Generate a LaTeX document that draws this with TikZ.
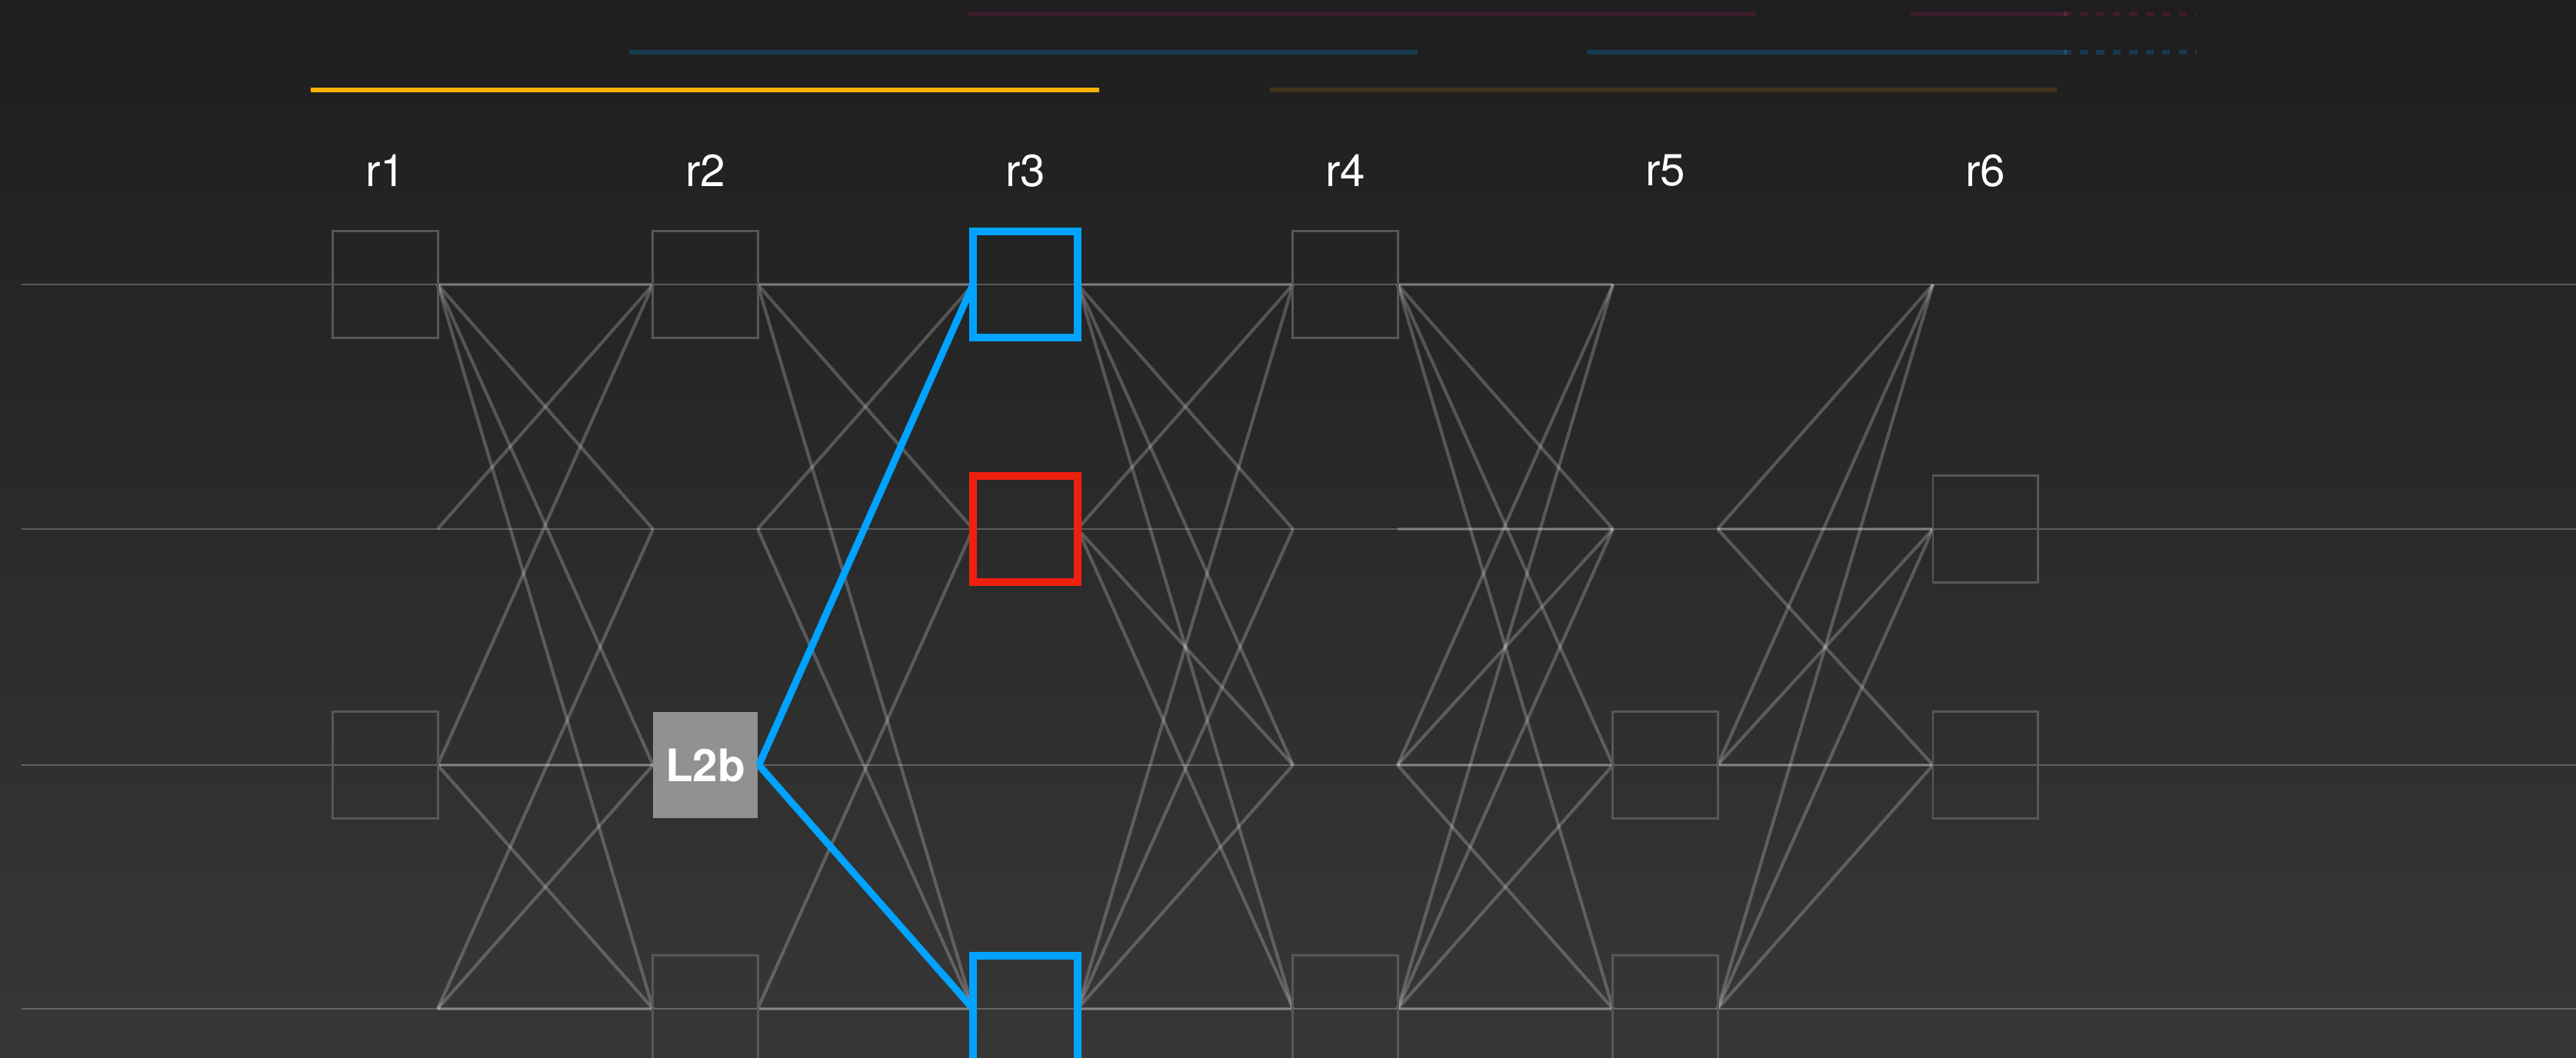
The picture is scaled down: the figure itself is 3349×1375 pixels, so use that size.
\documentclass[tikz,border=0pt]{standalone}
\usepackage{fontspec}
\setmainfont{TeX Gyre Heros}
\usetikzlibrary{calc}

\definecolor{bgtop}{HTML}{1E1E1E}
\definecolor{bgbot}{HTML}{373737}
\definecolor{cellgray}{HTML}{575757}
\definecolor{hotblue}{HTML}{00A3FF}
\definecolor{hotred}{HTML}{EF200E}
\definecolor{lbfill}{HTML}{919191}
\definecolor{barred}{HTML}{3D1C2D}
\definecolor{barredtick}{HTML}{5C2442}
\definecolor{barblue}{HTML}{163A4F}
\definecolor{barbluetick}{HTML}{1F5676}
\definecolor{baryellow}{HTML}{F6B400}
\definecolor{bardim}{HTML}{40351A}

\begin{document}
\begin{tikzpicture}[x=0.01cm,y=-0.01cm,
  rowline/.style={draw=white,draw opacity=0.24,line width=0.7pt},
  link/.style={draw=white,draw opacity=0.22,line width=1.2pt},
  hotlink/.style={draw=hotblue,line width=2.6pt},
  cell/.style={draw=cellgray,line width=0.85pt,minimum width=1.36cm,minimum height=1.38cm,inner sep=0pt},
  hotcell/.style={cell,line width=3pt},
  lab/.style={text=white,font=\fontsize{16.6}{20}\selectfont,inner sep=0pt},
  bar/.style={line width=1.6pt}]

\useasboundingbox (0,0) rectangle (3349,1375);
\shade [top color=bgtop,bottom color=bgbot] (0,0) rectangle (3349,1375);

% points where the links meet the columns
\foreach \c in {1,...,6}{
  \foreach \r/\y in {1/370,2/688,3/995,4/1312}{
    \coordinate (m\c\r) at ({501+416*(\c-1)},\y);
    \coordinate (in\c\r) at ({501+416*(\c-1)-68},\y);
    \coordinate (out\c\r) at ({501+416*(\c-1)+68},\y);
  }
}

\foreach \y in {370,688,995,1312}
  \draw [rowline] (28,\y) -- (3349,\y);

% links between neighbouring columns
\foreach \a/\b in {1/1,1/2,1/3,1/4,2/1,3/1,3/3,3/4,4/2,4/3,4/4}
  \draw [link] (out1\a) -- (in2\b);
\foreach \a/\b in {1/1,1/2,1/4,2/1,2/4,4/2,4/4}
  \draw [link] (out2\a) -- (in3\b);
\foreach \a/\b in {1/1,1/2,1/3,1/4,2/1,2/3,2/4,4/1,4/2,4/3,4/4}
  \draw [link] (out3\a) -- (in4\b);
\foreach \a/\b in {1/1,1/2,1/3,1/4,2/2,3/1,3/2,3/3,3/4,4/1,4/2,4/3,4/4}
  \draw [link] (out4\a) -- (in5\b);
\foreach \a/\b in {2/1,2/2,2/3,3/1,3/2,3/3,4/1,4/2,4/3}
  \draw [link] (out5\a) -- (in6\b);

% plain cells
\foreach \c/\r in {1/1,1/3,2/1,2/4,4/1,4/4,5/3,5/4,6/2,6/3}
  \node [cell] (b\c\r) at (m\c\r) {};

\node [cell,draw=none,fill=lbfill,text=white,font=\fontsize{16.6}{20}\selectfont\bfseries] (L2b) at (m23) {L2b};

\draw [hotlink] (L2b.east) -- (in31);
\draw [hotlink] (L2b.east) -- (in34);

\node [hotcell,draw=hotblue] (b31) at (m31) {};
\node [hotcell,draw=hotred] (b32) at (m32) {};
\node [hotcell,draw=hotblue] (b34) at (m34) {};

\foreach \c in {1,...,6}
  \node [lab] (r\c) at ({501+416*(\c-1)},222) {r\c};

% bars on top
\draw [bar,barred] (1258,18) -- (2283,18);
\draw [bar,barred] (2484,18) -- (2693,18);
\draw [bar,barred,dash pattern=on 0.103cm off 0.111cm] (2704,18) -- (2856,18);
\draw [bar,barredtick] (2683,18) -- (2687,18);
\draw [bar,barblue] (818,68) -- (1843,68);
\draw [bar,barblue] (2063,68) -- (2693,68);
\draw [bar,barblue,dash pattern=on 0.103cm off 0.111cm] (2704,68) -- (2856,68);
\draw [bar,barbluetick] (2683,68) -- (2687,68);
\draw [bar,baryellow] (404,117) -- (1429,117);
\draw [bar,bardim] (1651,117) -- (2674,117);

\end{tikzpicture}
\end{document}
